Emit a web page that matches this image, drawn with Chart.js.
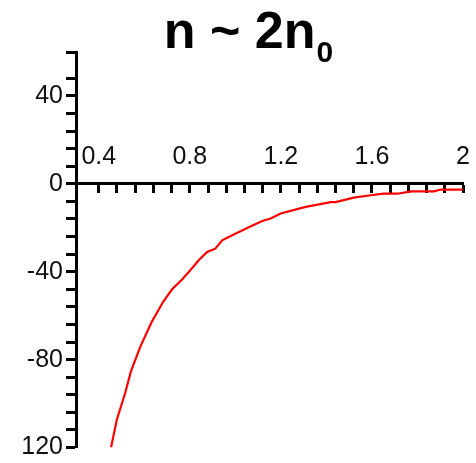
<!DOCTYPE html>
<html>
<head>
<meta charset="utf-8">
<script src="https://cdn.jsdelivr.net/npm/chart.js@4"></script>
<style>
  html, body { margin: 0; padding: 0; background: #fff; }
  #wrap { width: 476px; height: 463px; }
</style>
</head>
<body>
<div id="wrap"><canvas id="myChart"></canvas></div>
<script>
// density ratio curve
var xValues = [0.454, 0.479, 0.516, 0.541, 0.582, 0.633, 0.683, 0.722, 0.766, 0.802,
               0.839, 0.876, 0.912, 0.942, 0.993, 1.052, 1.118, 1.155, 1.199, 1.309,
               1.419, 1.441, 1.520, 1.595, 1.652, 1.713, 1.771, 1.873, 1.903, 2.0];
var yValues = [-120, -107.5, -95.2, -85.5, -74.2, -62.8, -53.7, -48, -43.5, -39.3,
               -34.8, -31, -29.5, -25.7, -23.1, -20.1, -16.9, -15.8, -13.5, -10.5,
               -8.3, -8.3, -6.3, -5.2, -4.5, -4.5, -3.4, -3.4, -2.6, -2.6];

var xTickLabels = ['0.4', '0.8', '1.2', '1.6', '2'];
var yTickLabels = { '40': '40', '0': '0', '-40': '-40', '-80': '-80', '-120': '120' };

var points = xValues.map(function (x, i) { return { x: x, y: yValues[i] }; });

var tickFont = { family: "'Liberation Sans', Arial, sans-serif", size: 25, lineHeight: 1 };

// title with subscript
var titlePlugin = {
    id: 'titleText',
    afterDraw: function (chart) {
        var ctx = chart.ctx;
        ctx.save();
        ctx.fillStyle = '#000';
        ctx.textBaseline = 'alphabetic';
        ctx.textAlign = 'left';
        ctx.font = "bold 52px 'Liberation Sans', Arial, sans-serif";
        var main = 'n ~ 2n';
        var w = ctx.measureText(main).width;
        ctx.font = "bold 30px 'Liberation Sans', Arial, sans-serif";
        var ws = ctx.measureText('0').width;
        var x0 = (chart.width - w - ws) / 2 + 10;
        ctx.font = "bold 52px 'Liberation Sans', Arial, sans-serif";
        ctx.fillText(main, x0, 48);
        ctx.font = "bold 30px 'Liberation Sans', Arial, sans-serif";
        ctx.fillText('0', x0 + w + 1, 62);
        ctx.restore();
    }
};

new Chart("myChart", {
    type: "scatter",
    data: {
        datasets: [{
            data: points,
            showLine: true,
            borderColor: 'red',
            backgroundColor: 'red',
            borderWidth: 2.2,
            pointRadius: 0,
            tension: 0
        }]
    },
    plugins: [titlePlugin],
    options: {
        responsive: true,
        maintainAspectRatio: false,
        animation: false,
        layout: { padding: { top: 52, bottom: 14, left: 0, right: 13 } },
        plugins: {
            legend: { display: false },
            title: { display: false },
            tooltip: { enabled: false }
        },
        scales: {
            x: {
                type: 'linear',
                min: 0.3,
                max: 2,
                position: { y: 0 },
                border: { display: true, color: '#000', width: 3 },
                grid: { drawOnChartArea: false, drawTicks: true, tickLength: 8, tickWidth: 3, tickColor: '#000' },
                ticks: {
                    stepSize: 0.08,
                    autoSkip: false,
                    maxRotation: 0,
                    padding: -47,
                    color: '#111',
                    font: tickFont,
                    callback: function (v) {
                        var k = v / 0.4;
                        if (Math.abs(k - Math.round(k)) < 1e-6) {
                            var lbl = xTickLabels[Math.round(k) - 1];
                            return lbl === undefined ? '' : lbl;
                        }
                        return '';
                    }
                }
            },
            y: {
                type: 'linear',
                min: -120,
                max: 60,
                position: 'left',
                afterFit: function (scale) { scale.width = 76; },
                border: { display: true, color: '#000', width: 3 },
                grid: { drawOnChartArea: false, drawTicks: true, tickLength: 10, tickWidth: 3, tickColor: '#000' },
                ticks: {
                    stepSize: 8,
                    autoSkip: false,
                    padding: 3,
                    color: '#111',
                    font: tickFont,
                    callback: function (v) {
                        var key = String(Math.round(v));
                        return (Math.abs(v - Math.round(v)) < 1e-6 && yTickLabels[key] !== undefined) ? yTickLabels[key] : '';
                    }
                }
            }
        }
    }
});
</script>
</body>
</html>
